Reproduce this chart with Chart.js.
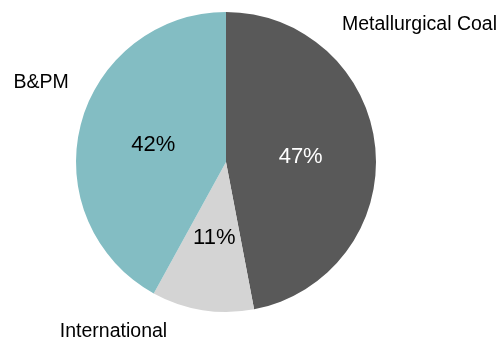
<!DOCTYPE html>
<html>
<head>
<meta charset="utf-8">
<script src="https://cdn.jsdelivr.net/npm/chart.js@4"></script>
<style>
  body { margin: 0; background: #fff; }
</style>
</head>
<body>
<canvas id="pie" width="500" height="340"></canvas>
<script>
// segment data, clockwise from 12 o'clock
const segments = ['Metallurgical Coal', 'International', 'B&PM'];
const shares = [47, 11, 42];
const sliceColors = ['#595959', '#d4d4d4', '#83bdc3'];
const pctColors = ['#ffffff', '#000000', '#000000'];

// where the category names sit, relative to the pie centre (in radii, baseline)
const nameSpots = [[1.29, -0.88], [-0.75, 1.167], [-1.233, -0.493]];

const labelPlugin = {
  id: 'pieLabels',
  afterDatasetsDraw(chart) {
    const ctx = chart.ctx;
    const arcs = chart.getDatasetMeta(0).data;
    ctx.save();
    ctx.textAlign = 'center';
    ctx.textBaseline = 'alphabetic';
    arcs.forEach((arc, i) => {
      const mid = (arc.startAngle + arc.endAngle) / 2;
      const r = arc.outerRadius * 0.5;
      const px = arc.x + Math.cos(mid) * r;
      const py = arc.y + Math.sin(mid) * r;
      ctx.font = '22px "Liberation Sans", Arial, sans-serif';
      ctx.fillStyle = pctColors[i];
      ctx.fillText(shares[i] + '%', px, py + 8);

      const s = nameSpots[i];
      ctx.font = '19.5px "Liberation Sans", Arial, sans-serif';
      ctx.fillStyle = '#000000';
      ctx.fillText(segments[i], arc.x + s[0] * arc.outerRadius, arc.y + s[1] * arc.outerRadius);
    });
    ctx.restore();
  }
};

new Chart(document.getElementById('pie'), {
  type: 'pie',
  data: {
    labels: segments,
    datasets: [{
      data: shares,
      backgroundColor: sliceColors,
      borderWidth: 0
    }]
  },
  options: {
    responsive: false,
    animation: false,
    layout: { padding: { top: 12, bottom: 28, left: 0, right: 48 } },
    plugins: {
      legend: { display: false },
      tooltip: { enabled: false }
    }
  },
  plugins: [labelPlugin]
});
</script>
</body>
</html>
